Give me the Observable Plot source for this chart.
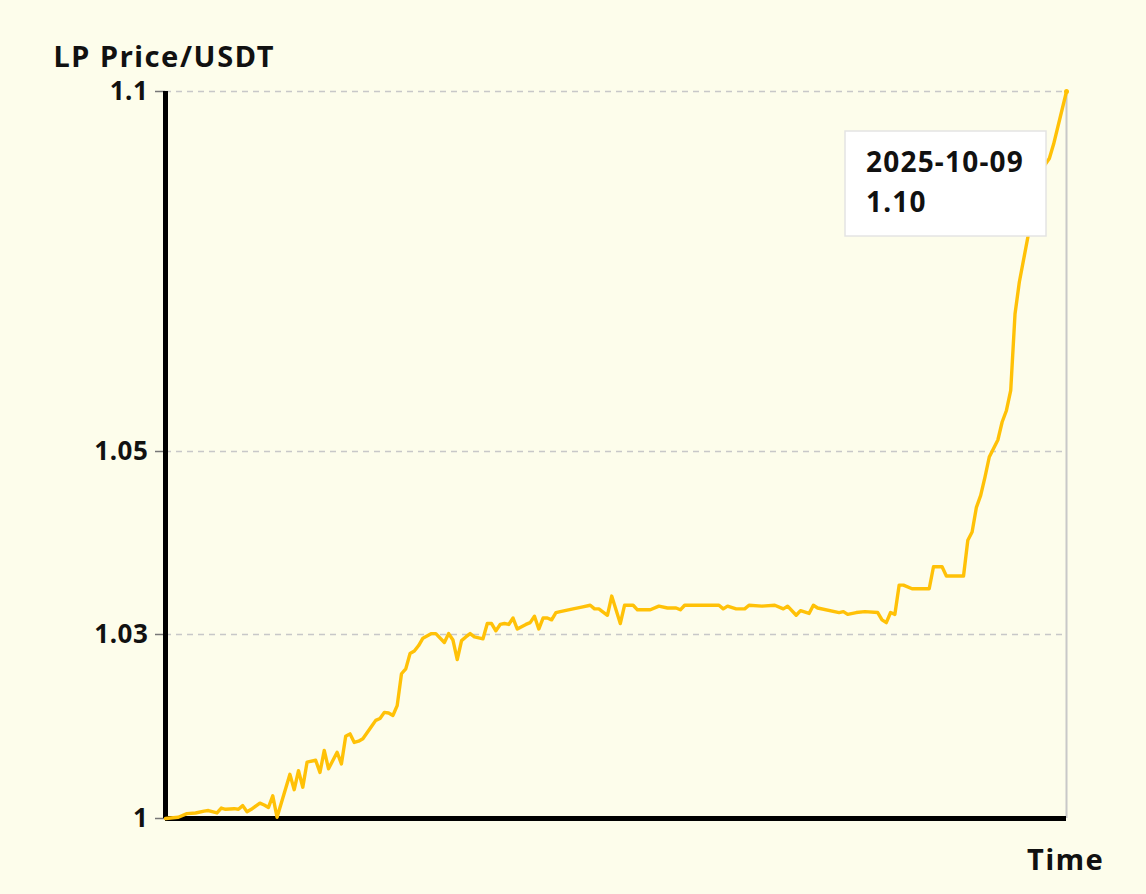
<!DOCTYPE html>
<html>
<head>
<meta charset="utf-8">
<script src="https://cdn.jsdelivr.net/npm/d3@7"></script>
<script src="https://cdn.jsdelivr.net/npm/@observablehq/plot@0.6"></script>
<style>
  html, body { margin: 0; padding: 0; background: #fdfdeb; }
  #chart svg { display: block; }
  #chart svg g[aria-label="text"] text { letter-spacing: 1.6px; }
  #chart svg g[aria-label="y-axis tick label"] text { letter-spacing: 0.6px; }
</style>
</head>
<body>
<div id="chart"></div>
<script>
// ---- data ----
const dates = [
  "2025-03-13","2025-03-16","2025-03-18","2025-03-20","2025-03-22","2025-03-23","2025-03-25","2025-03-26","2025-03-27","2025-03-29",
  "2025-03-30","2025-03-31","2025-04-01","2025-04-02","2025-04-04","2025-04-05","2025-04-06","2025-04-07","2025-04-08","2025-04-11",
  "2025-04-12","2025-04-13","2025-04-14","2025-04-15","2025-04-17","2025-04-18","2025-04-19","2025-04-20","2025-04-22","2025-04-23",
  "2025-04-24","2025-04-25","2025-04-26","2025-04-27","2025-04-28","2025-04-30","2025-05-01","2025-05-02","2025-05-03","2025-05-04",
  "2025-05-05","2025-05-06","2025-05-07","2025-05-08","2025-05-09","2025-05-10","2025-05-11","2025-05-12","2025-05-14","2025-05-15",
  "2025-05-17","2025-05-18","2025-05-19","2025-05-20","2025-05-21","2025-05-22","2025-05-23","2025-05-24","2025-05-26","2025-05-27",
  "2025-05-28","2025-05-29","2025-05-30","2025-05-31","2025-06-01","2025-06-02","2025-06-03","2025-06-05","2025-06-06","2025-06-07",
  "2025-06-08","2025-06-09","2025-06-10","2025-06-11","2025-06-12","2025-06-13","2025-06-16","2025-06-18","2025-06-20","2025-06-21",
  "2025-06-22","2025-06-24","2025-06-25","2025-06-27","2025-06-28","2025-06-30","2025-07-01","2025-07-04","2025-07-06","2025-07-08",
  "2025-07-10","2025-07-11","2025-07-12","2025-07-20","2025-07-21","2025-07-22","2025-07-24","2025-07-26","2025-07-27","2025-07-30",
  "2025-08-02","2025-08-04","2025-08-05","2025-08-07","2025-08-08","2025-08-10","2025-08-11","2025-08-12","2025-08-17","2025-08-18",
  "2025-08-19","2025-08-21","2025-08-23","2025-08-26","2025-08-27","2025-08-28","2025-08-29","2025-08-30","2025-08-31","2025-09-01",
  "2025-09-03","2025-09-07","2025-09-08","2025-09-10","2025-09-11","2025-09-15","2025-09-16","2025-09-17","2025-09-18","2025-09-19",
  "2025-09-20","2025-09-21","2025-09-23","2025-09-24","2025-09-25","2025-09-26","2025-09-27","2025-09-28","2025-09-30","2025-10-01",
  "2025-10-03","2025-10-05","2025-10-06","2025-10-09"
];
const prices = [
  1.0000,1.0002,1.0008,1.0009,1.0012,1.0013,1.0009,1.0017,1.0015,1.0016,
  1.0015,1.0021,1.0011,1.0015,1.0025,1.0022,1.0018,1.0037,1.0002,1.0072,
  1.0047,1.0078,1.0051,1.0092,1.0095,1.0075,1.0111,1.0081,1.0108,1.0089,
  1.0134,1.0138,1.0124,1.0126,1.0130,1.0150,1.0160,1.0163,1.0173,1.0172,
  1.0168,1.0184,1.0236,1.0244,1.0269,1.0273,1.0282,1.0294,1.0301,1.0301,
  1.0287,1.0301,1.0291,1.0259,1.0290,1.0296,1.0301,1.0296,1.0293,1.0312,
  1.0312,1.0304,1.0311,1.0312,1.0311,1.0318,1.0306,1.0311,1.0313,1.0320,
  1.0306,1.0318,1.0318,1.0316,1.0324,1.0325,1.0328,1.0330,1.0332,1.0328,
  1.0328,1.0321,1.0342,1.0312,1.0332,1.0332,1.0327,1.0327,1.0331,1.0329,
  1.0329,1.0327,1.0332,1.0332,1.0328,1.0331,1.0328,1.0328,1.0332,1.0331,
  1.0332,1.0328,1.0331,1.0321,1.0326,1.0323,1.0332,1.0329,1.0324,1.0325,
  1.0322,1.0324,1.0325,1.0324,1.0316,1.0313,1.0324,1.0322,1.0354,1.0354,
  1.0350,1.0350,1.0374,1.0374,1.0364,1.0364,1.0403,1.0412,1.0439,1.0452,
  1.0472,1.0494,1.0516,1.0541,1.0557,1.0585,1.0691,1.0735,1.0798,1.0853,
  1.0890,1.0907,1.0927,1.1000
];
const yTicks = [1, 1.03, 1.05, 1.1];
const yTickLabels = ["1", "1.03", "1.05", "1.1"];
const yAxisTitle = "LP Price/USDT";
const xAxisTitle = "Time";

// ---- build ----
const n = Math.min(dates.length, prices.length);
const data = d3.range(n).map(i => ({date: new Date(dates[i] + "T00:00:00Z"), price: prices[i]}));
const last = data[data.length - 1];

const FONT = "'Noto Sans', 'Open Sans', sans-serif";
const LINE = "#ffc107";

const W = 1146, H = 894;
const mL = 165, mR = 80, mT = 91, mB = 76;
const plotBottom = H - mB, plotTop = mT;
const plotH = plotBottom - plotTop;
// piecewise y scale: tick positions as fractions of the plot height
const yFrac = [0, 0.2531, 0.5048, 1];
const yRange = yFrac.map(f => plotBottom - f * plotH);

function tooltip(index, scales, values, dims) {
  const px = scales.x(last.date), py = scales.y(last.price);
  const g = d3.create("svg:g");
  g.append("rect")
    .attr("x", px - 221).attr("y", py + 40)
    .attr("width", 201).attr("height", 105)
    .attr("fill", "#ffffff").attr("stroke", "#e4e4e4").attr("stroke-width", 1.5);
  const t = [d3.utcFormat("%Y-%m-%d")(last.date), last.price.toFixed(2)];
  t.forEach((s, i) => {
    g.append("text")
      .attr("x", px - 200).attr("y", py + 81 + i * 40)
      .attr("text-anchor", "start")
      .attr("font-family", FONT).attr("font-weight", "bold").attr("font-size", 28)
      .attr("letter-spacing", "1.2px")
      .attr("fill", "#111")
      .text(s);
  });
  return g.node();
}

const chart = Plot.plot({
  width: W,
  height: H,
  marginLeft: mL,
  marginRight: mR,
  marginTop: mT,
  marginBottom: mB,
  style: {background: "#fdfdeb", fontFamily: FONT, overflow: "visible"},
  x: {type: "utc", domain: [data[0].date, last.date], axis: null},
  y: {type: "linear", domain: yTicks, range: yRange, axis: null},
  marks: [
    Plot.ruleY(yTicks.slice(1), {stroke: "#c8c8c8", strokeWidth: 1.5, strokeDasharray: "6,5"}),
    Plot.ruleX([last.date], {stroke: "#c8c8c8", strokeWidth: 2}),
    Plot.axisY({
      ticks: yTicks,
      tickFormat: d => yTickLabels[yTicks.indexOf(d)],
      tickSize: 10,
      tickPadding: 7,
      stroke: "#777",
      strokeWidth: 1.5,
      fontSize: 26,
      fontWeight: "bold",
      fill: "#111",
      label: null
    }),
    Plot.ruleX([data[0].date], {stroke: "#000", strokeWidth: 5}),
    Plot.ruleY([1], {stroke: "#000", strokeWidth: 5}),
    Plot.line(data, {x: "date", y: "price", stroke: LINE, strokeWidth: 3.4, curve: "linear"}),
    Plot.dot([last], {x: "date", y: "price", r: 2.5, fill: LINE}),
    Plot.text([yAxisTitle], {frameAnchor: "top-left", dx: -112, dy: -34, textAnchor: "start", lineAnchor: "middle", fontSize: 29, fontWeight: "bold", fill: "#111"}),
    Plot.text([xAxisTitle], {frameAnchor: "bottom-right", dx: 38, dy: 42, textAnchor: "end", lineAnchor: "middle", fontSize: 29, fontWeight: "bold", fill: "#111"}),
    tooltip
  ]
});
document.getElementById("chart").appendChild(chart);
</script>
</body>
</html>
